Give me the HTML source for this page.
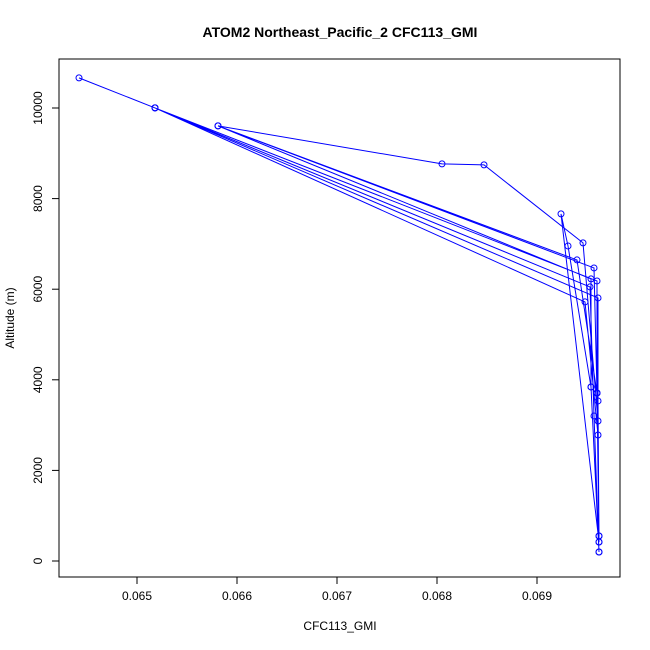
<!DOCTYPE html>
<html><head><meta charset="utf-8"><style>body{margin:0;background:#fff}svg{display:block;font-family:"Liberation Sans",sans-serif}</style></head>
<body>
<svg id="chart" width="650" height="650">
<rect width="650" height="650" fill="#fff"/>
<text x="340" y="37" text-anchor="middle" font-weight="bold" font-size="14">ATOM2 Northeast_Pacific_2 CFC113_GMI</text>
<rect x="59" y="59" width="561" height="518" fill="none" stroke="#000"/>
<text x="340" y="630" text-anchor="middle" font-size="12">CFC113_GMI</text>
<text transform="translate(14,318) rotate(-90)" text-anchor="middle" font-size="12">Altitude (m)</text>
<g id="axes"></g><g id="series"></g>
</svg>
<script>
const xTicks=[0.065,0.066,0.067,0.068,0.069];
const xTickLabels=["0.065","0.066","0.067","0.068","0.069"];
const yTicks=[0,2000,4000,6000,8000,10000];
const yTickLabels=["0","2000","4000","6000","8000","10000"];
const cfc=[0.06962,0.06961,0.06961,0.06518,0.06442,0.06518,0.06948,0.06961,0.06962,0.0696,0.0696,0.06518,0.06953,0.06957,0.06962,0.06954,0.06954,0.06581,0.06805,0.06847,0.06946,0.06961,0.06962,0.0696,0.0694,0.06581,0.06957,0.0696,0.06962,0.06924,0.06931,0.06954,0.06962];
const alt=[420,3533,5807,10002,10665,10002,5719,2782,552,3709,6182,10002,6050,3202,199,3842,6227,9605,8766,8744,7022,3091,552,3709,6646,9605,6469,3709,420,7662,6955,3842,199];
const NS="http://www.w3.org/2000/svg";
const sx=v=>137+(v-0.065)*100000;
const sy=v=>561-v*0.04530;
const ax=document.getElementById('axes'),se=document.getElementById('series');
function mk(tag,a,p){const e=document.createElementNS(NS,tag);for(const k in a)e.setAttribute(k,a[k]);p.appendChild(e);return e;}
mk('line',{x1:sx(xTicks[0]),x2:sx(xTicks[xTicks.length-1]),y1:577,y2:577,stroke:'#000'},ax);
mk('line',{x1:59,x2:59,y1:sy(yTicks[0]),y2:sy(yTicks[yTicks.length-1]),stroke:'#000'},ax);
xTicks.forEach((t,i)=>{
 const l=mk('line',{x1:sx(t),x2:sx(t),y1:577,y2:584,stroke:'#000'},ax);
 
 
 const tx=mk('text',{x:sx(t),y:600,'text-anchor':'middle','font-size':12},ax);tx.textContent=xTickLabels[i];
 
 
});
yTicks.forEach((t,i)=>{
 const l=mk('line',{x1:52,x2:59,y1:sy(t),y2:sy(t),stroke:'#000'},ax);
 
 
 const tx=mk('text',{transform:`translate(42,${sy(t)}) rotate(-90)`,'text-anchor':'middle','font-size':12},ax);tx.textContent=yTickLabels[i];
 
 
});
const pl=mk('polyline',{points:cfc.map((v,i)=>sx(v)+','+sy(alt[i])).join(' '),fill:'none',stroke:'#0000ff','stroke-width':1},se);


cfc.forEach((v,i)=>{
 const c=mk('circle',{cx:sx(v),cy:sy(alt[i]),r:3,fill:'none',stroke:'#0000ff'},se);
 
 
});
</script>
</body></html>
